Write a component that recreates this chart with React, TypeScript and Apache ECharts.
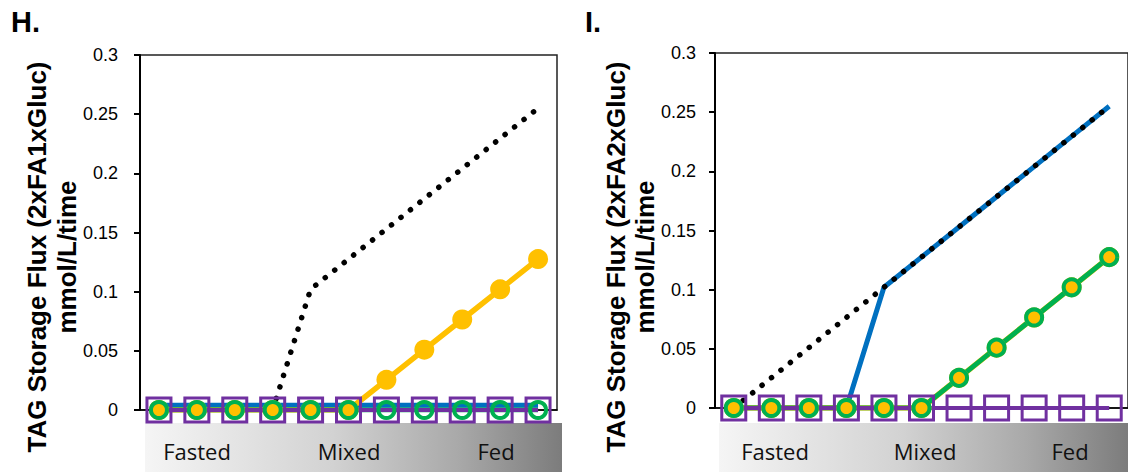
import React, { useEffect, useRef } from "react";
import * as echarts from "echarts";

// Eleven nutritional steps from fasted to fed
const steps = ["1", "2", "3", "4", "5", "6", "7", "8", "9", "10", "11"];
const yMin = 0;
const yMax = 0.3;
const yStep = 0.05;
const phaseLabels = ["Fasted", "Mixed", "Fed"];

// Panel H – 2xFA1xGluc
const hTotal = [null, null, null, 0, 0.102, 0.1275, 0.153, 0.1785, 0.204, 0.2295, 0.255];
const hBlue = [0.004, 0.004, 0.004, 0.004, 0.004, 0.004, 0.004, 0.004, 0.004, 0.004, 0.004];
const hYellow = [0, 0, 0, 0, 0, 0, 0.0255, 0.051, 0.0765, 0.102, 0.1275];
const hGreen = [0, 0, 0, 0, 0, 0, 0, 0, 0, 0, 0];
const hPurple = [0, 0, 0, 0, 0, 0, 0, 0, 0, 0, 0];

// Panel I – 2xFA2xGluc
const iTotal = [0, 0.0255, 0.051, 0.0765, 0.102, 0.1275, 0.153, 0.1785, 0.204, 0.2295, 0.255];
const iBlue = [0, 0, 0, 0, 0.102, 0.1275, 0.153, 0.1785, 0.204, 0.2295, 0.255];
const iYellow = [0, 0, 0, 0, 0, 0, 0.0255, 0.051, 0.0765, 0.102, 0.1275];
const iGreen = [0, 0, 0, 0, 0, 0, 0.0255, 0.051, 0.0765, 0.102, 0.1275];
const iPurple = [0, 0, 0, 0, 0, 0, 0, 0, 0, 0, 0];

const BLUE = "#0070C0";
const YELLOW = "#FFC000";
const GREEN = "#00B050";
const PURPLE = "#7030A0";
const ARIAL = '"Liberation Sans", Arial, sans-serif';

const dotted = (idx: number, data: (number | null)[]) => ({
  type: "line",
  xAxisIndex: idx,
  yAxisIndex: idx,
  data,
  symbol: "none",
  silent: true,
  lineStyle: { color: "#000", width: 5.5, type: [0.1, 12], cap: "round" },
});

const blue = (idx: number, data: number[]) => ({
  type: "line",
  xAxisIndex: idx,
  yAxisIndex: idx,
  data,
  symbol: "none",
  lineStyle: { color: BLUE, width: 5 },
});

const yellow = (idx: number, data: number[]) => ({
  type: "line",
  xAxisIndex: idx,
  yAxisIndex: idx,
  data,
  symbol: "circle",
  symbolSize: 20,
  itemStyle: { color: YELLOW },
  lineStyle: { color: YELLOW, width: 5.5 },
});

const green = (idx: number, data: number[]) => ({
  type: "line",
  xAxisIndex: idx,
  yAxisIndex: idx,
  data,
  symbol: "circle",
  symbolSize: 16,
  itemStyle: { color: "rgba(0,0,0,0)", borderColor: GREEN, borderWidth: 4 },
  lineStyle: { color: GREEN, width: 5 },
});

const purple = (idx: number, data: number[]) => ({
  type: "line",
  xAxisIndex: idx,
  yAxisIndex: idx,
  data,
  symbol: "rect",
  symbolSize: 24,
  itemStyle: { color: "rgba(0,0,0,0)", borderColor: PURPLE, borderWidth: 3 },
  lineStyle: { color: PURPLE, width: 4 },
});

const xAxisFor = (idx: number) => ({
  type: "category",
  gridIndex: idx,
  data: steps,
  boundaryGap: true,
  axisLine: { show: true, onZero: false, lineStyle: { color: "#000", width: 1.5 } },
  axisTick: { show: false },
  axisLabel: { show: false },
});

const yAxisFor = (idx: number, margin: number) => ({
  type: "value",
  gridIndex: idx,
  min: yMin,
  max: yMax,
  interval: yStep,
  splitLine: { show: false },
  axisLine: { show: true, lineStyle: { color: "#000", width: 2 } },
  axisTick: { show: true, length: 6, lineStyle: { color: "#000", width: 2 } },
  axisLabel: { color: "#000", fontSize: 18, fontFamily: ARIAL, margin },
});

const phaseBar = (x: number, width: number) => ({
  type: "rect",
  shape: { x, y: 423, width, height: 49 },
  silent: true,
  style: {
    fill: new echarts.graphic.LinearGradient(0, 0, 1, 0, [
      { offset: 0, color: "#f5f5f5" },
      { offset: 0.45, color: "#d2d2d2" },
      { offset: 0.75, color: "#a9a9a9" },
      { offset: 1, color: "#7c7c7c" },
    ]),
  },
});

const phaseText = (x: number, text: string) => ({
  type: "text",
  x,
  y: 451,
  silent: true,
  style: {
    text,
    font: '22px "Open Sans", "Noto Sans", sans-serif',
    fill: "#111",
    align: "center",
    verticalAlign: "middle",
  },
});

const axisTitle = (x: number, text: string) => ({
  type: "text",
  x,
  y: 257,
  rotation: Math.PI / 2,
  silent: true,
  style: {
    text,
    font: `bold 26px ${ARIAL}`,
    fill: "#000",
    align: "center",
    verticalAlign: "middle",
  },
});

const panelTitle = (x: number, text: string) => ({
  type: "text",
  x,
  y: 22,
  silent: true,
  style: {
    text,
    font: `bold 29px ${ARIAL}`,
    fill: "#000",
    align: "left",
    verticalAlign: "middle",
  },
});

export default function App() {
  const ref = useRef<HTMLDivElement>(null);

  useEffect(() => {
    if (!ref.current) return;
    const chart = echarts.init(ref.current, null, { renderer: "svg" });
    chart.setOption({
      animation: false,
      backgroundColor: "#fff",
      grid: [
        { left: 140, top: 55, width: 417, height: 355, show: true, borderColor: "#222", borderWidth: 1.5, backgroundColor: "transparent" },
        { left: 715, top: 53, width: 420, height: 355, show: true, borderColor: "#222", borderWidth: 1.5, backgroundColor: "transparent" },
      ],
      xAxis: [xAxisFor(0), xAxisFor(1)],
      yAxis: [yAxisFor(0, 22), yAxisFor(1, 19)],
      series: [
        // panel H: total flux sits beneath the flat series
        dotted(0, hTotal),
        blue(0, hBlue),
        yellow(0, hYellow),
        green(0, hGreen),
        purple(0, hPurple),
        // panel I: total flux drawn over the others
        blue(1, iBlue),
        yellow(1, iYellow),
        green(1, iGreen),
        purple(1, iPurple),
        dotted(1, iTotal),
      ],
      graphic: [
        phaseBar(145, 417),
        phaseBar(719, 409),
        phaseText(197, phaseLabels[0]),
        phaseText(349, phaseLabels[1]),
        phaseText(496, phaseLabels[2]),
        phaseText(775, phaseLabels[0]),
        phaseText(925, phaseLabels[1]),
        phaseText(1070, phaseLabels[2]),
        axisTitle(37, "TAG Storage Flux (2xFA1xGluc)"),
        axisTitle(67, "mmol/L/time"),
        axisTitle(616, "TAG Storage Flux (2xFA2xGluc)"),
        axisTitle(645, "mmol/L/time"),
        panelTitle(11, "H."),
        panelTitle(585, "I."),
      ],
    });
    return () => chart.dispose();
  }, []);

  return (
    <div
      ref={ref}
      style={{ position: "absolute", left: 0, top: 0, width: 1128, height: 472 }}
    />
  );
}
